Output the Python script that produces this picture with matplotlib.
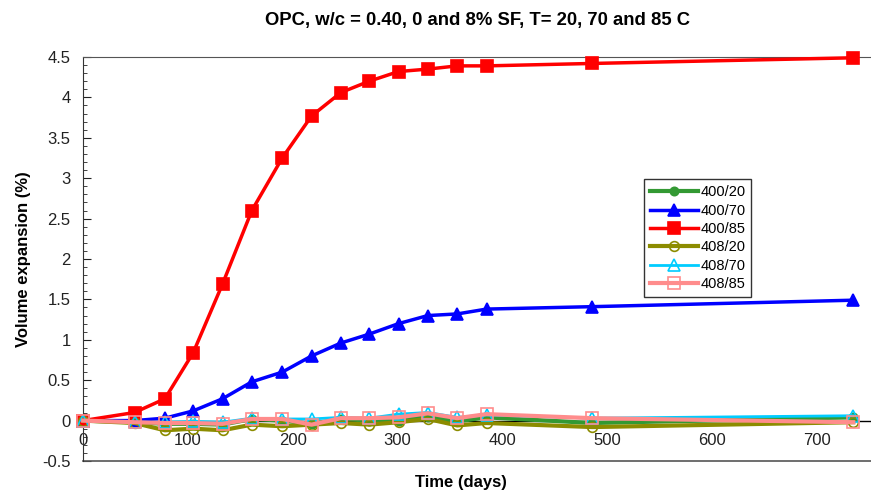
import matplotlib
matplotlib.use("Agg")
import matplotlib.pyplot as plt
from matplotlib.ticker import MultipleLocator

plt.rcParams["font.family"] = ["Liberation Sans", "DejaVu Sans"]

# -------------------------------
# Data
# -------------------------------
days = [0, 49, 78, 105, 133, 161, 190, 218, 246, 273, 301, 329, 357, 385, 486, 735]

exp_400_20 = [0, -0.02, -0.04, -0.04, -0.05, 0.02, 0.00, -0.04, 0.02, 0.00, 0.00, 0.05, -0.01, 0.04, -0.03, 0.04]
exp_400_70 = [0, 0.00, 0.03, 0.12, 0.27, 0.48, 0.60, 0.80, 0.96, 1.07, 1.20, 1.30, 1.32, 1.38, 1.41, 1.49]
exp_400_85 = [0, 0.10, 0.27, 0.84, 1.69, 2.60, 3.25, 3.77, 4.06, 4.20, 4.32, 4.35, 4.39, 4.39, 4.42, 4.49]
exp_408_20 = [0, -0.03, -0.12, -0.10, -0.12, -0.05, -0.07, -0.05, -0.03, -0.05, -0.02, 0.02, -0.06, -0.03, -0.08, -0.02]
exp_408_70 = [0, -0.02, -0.02, -0.01, -0.02, 0.03, 0.02, 0.02, 0.04, 0.03, 0.08, 0.10, 0.04, 0.07, 0.03, 0.06]
exp_408_85 = [0, -0.02, -0.03, -0.03, -0.04, 0.02, 0.02, -0.05, 0.03, 0.03, 0.04, 0.09, 0.03, 0.08, 0.03, -0.02]

series = [
    ("400/20", exp_400_20, "#339933", "o", "full", 3.0, 6),
    ("400/70", exp_400_70, "#0000ff", "^", "full", 2.5, 8),
    ("400/85", exp_400_85, "#ff0000", "s", "full", 2.5, 8),
    ("408/20", exp_408_20, "#8c8c00", "o", "none", 3.0, 7),
    ("408/70", exp_408_70, "#00ccff", "^", "none", 2.0, 8),
    ("408/85", exp_408_85, "#ff8c8c", "s", "none", 3.0, 9),
]

# -------------------------------
# Figure
# -------------------------------
fig = plt.figure(figsize=(8.71, 4.90), dpi=100)
ax = fig.add_axes([0.0955, 0.0592, 0.9045, 0.8245])

for label, vals, color, marker, fill, lw, ms in series:
    ax.plot(days, vals, color=color, marker=marker, fillstyle=fill,
            linewidth=lw, markersize=ms, markeredgewidth=1.2,
            label=label, clip_on=False, zorder=3)

ax.set_xlim(0, 752)
ax.set_ylim(-0.5, 4.5)

# x axis crosses at y = 0, frame lines at top and bottom
ax.spines["bottom"].set_position(("data", 0))
ax.spines["bottom"].set_color("black")
ax.spines["bottom"].set_linewidth(1.0)
ax.spines["bottom"].set_zorder(2)
ax.spines["right"].set_visible(False)
ax.spines["top"].set_color("#555555")
ax.spines["left"].set_color("#333333")
ax.axhline(-0.5, color="#555555", linewidth=1.2, clip_on=False)

ax.xaxis.set_major_locator(MultipleLocator(100))
ax.yaxis.set_minor_locator(MultipleLocator(0.1))
ax.set_yticks([-0.5, 0, 0.5, 1, 1.5, 2, 2.5, 3, 3.5, 4, 4.5])
ax.set_yticklabels(["-0.5", "0", "0.5", "1", "1.5", "2", "2.5", "3", "3.5", "4", "4.5"])
ax.tick_params(axis="y", which="major", direction="in", length=6, labelsize=12, colors="#222222", pad=9)
ax.tick_params(axis="y", which="minor", direction="in", length=3, colors="#222222")
ax.tick_params(axis="x", which="major", length=0, labelsize=12, colors="#222222", pad=9)
ax.set_xticks([0, 100, 200, 300, 400, 500, 600, 700])

ax.set_title("OPC, w/c = 0.40, 0 and 8% SF, T= 20, 70 and 85 C",
             fontsize=13.3, fontweight="bold", pad=23, x=0.5)
ax.set_ylabel("Volume expansion (%)", fontsize=12, fontweight="bold", labelpad=8)
ax.text(0.48, -0.035, "Time (days)", transform=ax.transAxes, ha="center", va="top",
        fontsize=12, fontweight="bold")

leg = ax.legend(loc="upper left", bbox_to_anchor=(0.712, 0.697), fontsize=10.5,
                frameon=True, fancybox=False, edgecolor="black",
                borderpad=0.4, labelspacing=0.3, handlelength=3.3,
                handletextpad=0.15, borderaxespad=0)
leg.get_frame().set_linewidth(1.0)

fig.savefig("out.png", dpi=100)
